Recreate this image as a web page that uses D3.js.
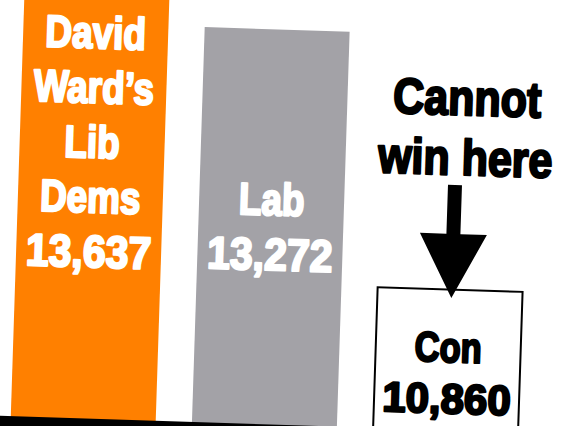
<!DOCTYPE html>
<html><head><meta charset="utf-8">
<script src="https://cdn.jsdelivr.net/npm/d3@7"></script>
<style>html,body{margin:0;padding:0;background:#fff;overflow:hidden}</style>
</head><body>
<svg id="chart" width="583" height="426"></svg>
<script>
// ---- data ----
const parties = ["Lib Dems", "Lab", "Con"];
const votes = [13637, 13272, 10860];
const nameLines = [["David", "Ward’s", "Lib", "Dems"], ["Lab"], ["Con"]];
const voteLabels = ["13,637", "13,272", "10,860"];
const annotationLines = ["Cannot", "win here"];

// ---- style / layout ----
const fills = ["#ff8000", "#a3a2a7", "#ffffff"];
const textColors = ["#ffffff", "#ffffff", "#000000"];
const numberBaselines = [273.5, 270.6, 408];
const linePitch = [54.75, 55, 51.2];
const fontSizes = [45, 45, 42];
const W = 583, H = 426, baseY = 425;
const FONT = "'Liberation Sans', Arial, Helvetica, sans-serif";

const svg = d3.select("#chart");
const root = svg.append("g").attr("transform", "rotate(1.85,291,213)");

const x = d3.scaleBand().domain(parties).range([17.5, 525]).paddingInner(0.2).paddingOuter(0);
const y = d3.scaleLinear().domain([9526, 13272]).range([baseY, 30]);
const bw = x.bandwidth();

const data = parties.map((p, i) => ({party: p, value: votes[i], i}));

// bars
root.selectAll("rect.bar").data(data).join("rect")
  .attr("class", "bar")
  .attr("x", d => x(d.party))
  .attr("y", d => y(d.value))
  .attr("width", bw)
  .attr("height", d => baseY - y(d.value) + 10)
  .attr("fill", d => fills[d.i])
  .attr("stroke", d => d.i === 2 ? "#000" : "none")
  .attr("stroke-width", 2);

// baseline band
root.append("rect")
  .attr("x", -80).attr("y", y.range()[0])
  .attr("width", W + 160).attr("height", 40)
  .attr("fill", "#000");

function addText(g, str, cx, by, fs, sx, color) {
  g.append("text")
    .attr("transform", `translate(${cx},${by}) scale(${sx},1)`)
    .attr("text-anchor", "middle")
    .attr("font-family", FONT)
    .attr("font-weight", "bold")
    .attr("font-size", fs)
    .attr("fill", color)
    .attr("stroke", color)
    .attr("stroke-width", 2.4)
    .attr("stroke-linejoin", "round")
    .text(str);
}

// bar labels
data.forEach(d => {
  const cx = x(d.party) + bw / 2;
  const lines = nameLines[d.i];
  const nb = numberBaselines[d.i];
  const pitch = linePitch[d.i];
  lines.forEach((ln, k) => {
    const by = nb - (lines.length - k) * pitch;
    addText(root, ln, cx, by, fontSizes[d.i], 0.82, textColors[d.i]);
  });
  addText(root, voteLabels[d.i], cx, nb, fontSizes[d.i], d.i === 2 ? 1.0 : 0.91, textColors[d.i]);
});

// annotation
const conCx = x("Con") + bw / 2;
const conTop = y(votes[2]);
annotationLines.forEach((ln, k) => {
  addText(root, ln, conCx + 11, 109.4 + k * 60, 50, 0.86, "#000");
});

// arrow
const ax = conCx + 1.5;
const arrow = d3.path();
arrow.moveTo(ax - 7, 179.7);
arrow.lineTo(ax + 7, 179.7);
arrow.lineTo(ax + 7, 228.7);
arrow.lineTo(ax + 33.5, 228.7);
arrow.lineTo(ax, conTop + 8.5);
arrow.lineTo(ax - 33.5, 228.7);
arrow.lineTo(ax - 7, 228.7);
arrow.closePath();
root.append("path").attr("d", arrow.toString()).attr("fill", "#000");
</script>
</body></html>
